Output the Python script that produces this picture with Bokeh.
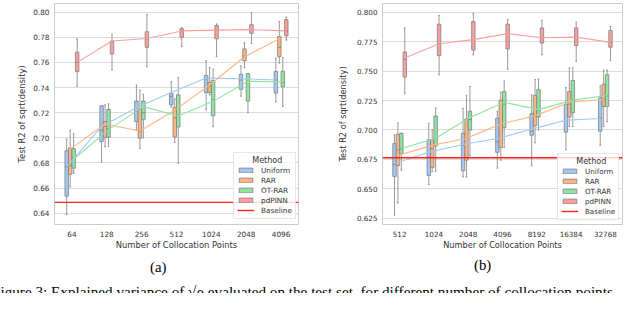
from bokeh.plotting import figure
from bokeh.models import (FactorRange, ColumnDataSource, Span, Legend, LegendItem,
                          FixedTicker, NumeralTickFormatter, Div)
from bokeh.layouts import row, column
from bokeh.transform import dodge
from bokeh.embed import file_html
from bokeh.resources import INLINE

METHODS = ["Uniform", "RAR", "OT-RAR", "pdPINN"]
COLORS = ["#a1c9f4", "#ffb482", "#8de5a1", "#ff9f9b"]
OFFSETS = [-0.15, -0.05, 0.05, 0.15]

# ---- panel (a) ----  each entry: (whisker low, q1, median, q3, whisker high, mean)
A_POINTS = ["64", "128", "256", "512", "1024", "2048", "4096"]
A_UNIFORM = [(0.639, 0.6536, 0.677, 0.6898, 0.699, 0.677),
             (0.681, 0.697, 0.706, 0.7255, 0.7255, 0.709),
             (0.706, 0.713, 0.721, 0.7292, 0.742, 0.724),
             (0.7245, 0.7262, 0.733, 0.7354, 0.7447, 0.736),
             (0.7223, 0.736, 0.747, 0.7496, 0.7613, 0.7475),
             (0.7331, 0.7386, 0.746, 0.7505, 0.7572, 0.747),
             (0.7287, 0.7356, 0.746, 0.7527, 0.7634, 0.746)]
A_RAR = [(0.661, 0.671, 0.678, 0.6918, 0.706, 0.691),
         (0.693, 0.7002, 0.709, 0.713, 0.7262, 0.711),
         (0.6915, 0.6997, 0.705, 0.7225, 0.738, 0.7055),
         (0.6963, 0.7007, 0.716, 0.7243, 0.731, 0.722),
         (0.7342, 0.736, 0.741, 0.744, 0.7558, 0.742),
         (0.7558, 0.7613, 0.765, 0.7707, 0.7757, 0.7645),
         (0.7594, 0.7645, 0.772, 0.7806, 0.7926, 0.7787)]
A_OTRAR = [(0.6718, 0.6759, 0.684, 0.6913, 0.7032, 0.683),
           (0.6933, 0.7005, 0.707, 0.7225, 0.727, 0.7065),
           (0.700, 0.7144, 0.720, 0.7292, 0.7347, 0.7248),
           (0.6797, 0.7087, 0.718, 0.7342, 0.7479, 0.7174),
           (0.7089, 0.7175, 0.730, 0.7455, 0.7547, 0.729),
           (0.720, 0.7292, 0.745, 0.751, 0.751, 0.745),
           (0.725, 0.7406, 0.744, 0.753, 0.7637, 0.7444)]
A_PDPINN = [(0.741, 0.7526, 0.760, 0.7682, 0.7787, 0.760),
            (0.754, 0.7667, 0.7764, 0.7769, 0.7824, 0.777),
            (0.7566, 0.772, 0.7787, 0.7844, 0.798, 0.779),
            (0.7725, 0.780, 0.7849, 0.7868, 0.7876, 0.785),
            (0.7645, 0.7787, 0.7856, 0.7893, 0.7906, 0.7856),
            (0.775, 0.7831, 0.786, 0.790, 0.7993, 0.786),
            (0.7777, 0.7811, 0.785, 0.794, 0.796, 0.785)]
A_BASELINE = 0.6487
A_YTICKS = [0.64, 0.66, 0.68, 0.70, 0.72, 0.74, 0.76, 0.78, 0.80]

# ---- panel (b) ----
B_POINTS = ["512", "1024", "2048", "4096", "8192", "16384", "32768"]
B_UNIFORM = [(0.6276, 0.6605, 0.671, 0.6885, 0.6958, 0.6715),
             (0.6535, 0.6613, 0.677, 0.6917, 0.7058, 0.681),
             (0.660, 0.6654, 0.687, 0.6972, 0.7185, 0.6877),
             (0.6675, 0.681, 0.690, 0.710, 0.716, 0.6928),
             (0.6697, 0.6955, 0.699, 0.7139, 0.730, 0.7006),
             (0.6832, 0.6982, 0.708, 0.7219, 0.7362, 0.7084),
             (0.6869, 0.699, 0.710, 0.7273, 0.7375, 0.7098)]
B_RAR = [(0.6379, 0.6697, 0.683, 0.6963, 0.706, 0.6783),
         (0.6645, 0.668, 0.684, 0.6917, 0.700, 0.6869),
         (0.660, 0.6743, 0.693, 0.7093, 0.7295, 0.693),
         (0.6742, 0.685, 0.705, 0.7254, 0.7322, 0.7052),
         (0.689, 0.7038, 0.712, 0.7294, 0.743, 0.712),
         (0.703, 0.7111, 0.722, 0.7327, 0.7529, 0.7236),
         (0.703, 0.720, 0.726, 0.7389, 0.751, 0.726)]
B_OTRAR = [(0.6657, 0.6796, 0.684, 0.6972, 0.6972, 0.6842),
           (0.6648, 0.6864, 0.693, 0.7119, 0.7187, 0.693),
           (0.678, 0.700, 0.709, 0.716, 0.737, 0.7106),
           (0.685, 0.702, 0.722, 0.7327, 0.7416, 0.7236),
           (0.700, 0.7111, 0.717, 0.7343, 0.7434, 0.7173),
           (0.703, 0.7147, 0.725, 0.7421, 0.7529, 0.7254),
           (0.707, 0.720, 0.729, 0.747, 0.751, 0.7294)]
B_PDPINN = [(0.7308, 0.745, 0.760, 0.7664, 0.7868, 0.7612),
            (0.747, 0.7632, 0.7733, 0.790, 0.7973, 0.7733),
            (0.764, 0.768, 0.7769, 0.7922, 0.799, 0.7769),
            (0.7515, 0.769, 0.782, 0.790, 0.7941, 0.782),
            (0.764, 0.7739, 0.7785, 0.7868, 0.7933, 0.7785),
            (0.7583, 0.7717, 0.779, 0.7868, 0.7919, 0.779),
            (0.759, 0.7704, 0.7745, 0.7846, 0.7882, 0.7745)]
B_BASELINE = 0.6764
B_YTICKS = [0.625, 0.650, 0.675, 0.700, 0.725, 0.750, 0.775, 0.800]

Y_LABEL = "Test R2 of sqrt(density)"
X_LABEL = "Number of Collocation Points"
SUBCAPTIONS = ["(a)", "(b)"]
FIG_CAPTION = ("Figure 3: Explained variance of \u221a\u03c1 evaluated on the test set, "
               "for different number of collocation points")

TEXT = "#333333"
EDGE = "#808080"
RED = "#ff2020"
FIG_H = 252


def make_panel(cats, series, baseline, ylo, yhi, yticks, fmt, width, borders,
               tick_fs, lab_fs, ylab_standoff, legend_fs, legend_loc, with_ylabel):
    bl, br, bt, bb = borders
    p = figure(x_range=FactorRange(*cats), y_range=(ylo, yhi), width=width, height=FIG_H,
               output_backend="svg", toolbar_location=None,
               min_border_left=bl, min_border_right=br, min_border_top=bt,
               min_border_bottom=bb)
    p.background_fill_color = "white"
    p.border_fill_color = "white"
    p.outline_line_color = "#cccccc"
    p.xgrid.grid_line_color = None
    p.ygrid.grid_line_color = "#dcdcdc"
    p.ygrid.ticker = FixedTicker(ticks=yticks)
    p.yaxis.ticker = FixedTicker(ticks=yticks)
    p.yaxis.formatter = NumeralTickFormatter(format=fmt)
    for ax in (p.xaxis[0], p.yaxis[0]):
        ax.axis_line_color = None
        ax.major_tick_line_color = None
        ax.minor_tick_line_color = None
        ax.major_tick_out = 0
        ax.major_tick_in = 0
        ax.major_label_text_font = "DejaVu Sans"
        ax.major_label_text_font_size = tick_fs
        ax.major_label_text_color = TEXT
        ax.axis_label_text_font = "DejaVu Sans"
        ax.axis_label_text_font_size = lab_fs
        ax.axis_label_text_font_style = "normal"
        ax.axis_label_text_color = TEXT
    p.xaxis.major_label_standoff = 6
    p.xaxis.axis_label_standoff = 0
    p.yaxis.major_label_standoff = 5
    p.yaxis.axis_label_standoff = ylab_standoff
    p.xaxis.axis_label = X_LABEL
    if with_ylabel:
        p.yaxis.axis_label = Y_LABEL

    items = []
    line_sources = []
    for name, color, off, stats in zip(METHODS, COLORS, OFFSETS, series):
        src = ColumnDataSource(dict(
            cat=cats,
            lo=[s[0] for s in stats], q1=[s[1] for s in stats], med=[s[2] for s in stats],
            q3=[s[3] for s in stats], hi=[s[4] for s in stats], mean=[s[5] for s in stats]))
        xc = dodge("cat", off, range=p.x_range)
        p.segment(x0=xc, y0="lo", x1=xc, y1="q1", source=src, line_color=EDGE, line_width=0.8)
        p.segment(x0=xc, y0="q3", x1=xc, y1="hi", source=src, line_color=EDGE, line_width=0.8)
        for yk in ("lo", "hi"):
            p.segment(x0=dodge("cat", off - 0.025, range=p.x_range), y0=yk,
                      x1=dodge("cat", off + 0.025, range=p.x_range), y1=yk,
                      source=src, line_color=EDGE, line_width=0.8)
        r = p.vbar(x=xc, width=0.1, bottom="q1", top="q3", source=src,
                   fill_color=color, line_color=EDGE, line_width=0.8)
        p.segment(x0=dodge("cat", off - 0.05, range=p.x_range), y0="med",
                  x1=dodge("cat", off + 0.05, range=p.x_range), y1="med",
                  source=src, line_color=EDGE, line_width=0.8)
        items.append(LegendItem(label=name, renderers=[r]))
        line_sources.append((src, color, off))
    for src, color, off in line_sources:
        p.line(x=dodge("cat", off, range=p.x_range), y="mean", source=src,
               line_color=color, line_width=1.1)

    p.add_layout(Span(location=baseline, dimension="width", line_color=RED,
                      line_width=1.4))
    # legend proxy for the baseline (drawn outside the visible y range)
    proxy = p.line(x=[cats[0], cats[-1]], y=[ylo - 1, ylo - 1], line_color=RED, line_width=1.4)
    items.append(LegendItem(label="Baseline", renderers=[proxy]))

    leg = Legend(items=items, location=legend_loc,
                 title="\u00a0\u00a0\u00a0\u00a0\u00a0\u00a0Method")
    leg.title_text_font = "DejaVu Sans"
    leg.title_text_font_size = "8px"
    leg.title_text_font_style = "normal"
    leg.title_text_color = TEXT
    leg.title_standoff = 0
    leg.label_text_font = "DejaVu Sans"
    leg.label_text_font_size = legend_fs
    leg.label_text_color = TEXT
    leg.label_height = 10
    leg.label_standoff = 7
    leg.glyph_height = 6
    leg.glyph_width = 17
    leg.spacing = 0
    leg.padding = 3
    leg.margin = 0
    leg.border_line_color = "#d0d0d0"
    leg.background_fill_alpha = 0.8
    p.add_layout(leg)
    return p


# panel (a): its y-axis title is set in a narrow text column on its left
YLAB_W = 28
pa = make_panel(A_POINTS, [A_UNIFORM, A_RAR, A_OTRAR, A_PDPINN], A_BASELINE,
                0.6311, 0.8068, A_YTICKS, "0.00", 320 - YLAB_W, (54 - YLAB_W, 22, 1, 26),
                "7.3px", "8.4px", 0, "7.3px", (179, 5), False)
pb = make_panel(B_POINTS, [B_UNIFORM, B_RAR, B_OTRAR, B_PDPINN], B_BASELINE,
                0.6196, 0.8076, B_YTICKS, "0.000", 304, (62, 2, 3, 28),
                "7.2px", "8.2px", 6, "7.1px", (175, 4), True)

ylab_a = Div(
    text=('<div style="position:relative; width:%dpx; height:%dpx;">'
          '<span style="position:absolute; left:22px; top:113.5px; '
          'transform: translate(-50%%, -50%%) rotate(-90deg); white-space:nowrap; '
          "font-family:'DejaVu Sans'; font-size:8.4px; line-height:1; color:%s;\">%s</span>"
          '</div>') % (YLAB_W, FIG_H, TEXT, Y_LABEL),
    width=YLAB_W, height=FIG_H, margin=0)

SERIF = ("font-family: 'Liberation Serif', serif; color:#000; line-height:1; "
         "white-space:nowrap; position:absolute;")
cap_html = (
    '<div style="position:relative; width:624px; height:41px; overflow:hidden;">'
    f'<span style="{SERIF} font-size:14.8px; left:150px; top:8px;">{SUBCAPTIONS[0]}</span>'
    f'<span style="{SERIF} font-size:14.8px; left:474px; top:6px;">{SUBCAPTIONS[1]}</span>'
    f'<span style="{SERIF} font-size:15.2px; left:-8px; top:32px;">{FIG_CAPTION}</span>'
    '</div>'
)
cap = Div(text=cap_html, width=624, height=41, margin=0, styles={"overflow": "hidden"})

layout = column(row(ylab_a, pa, pb), cap)
open("out.html", "w").write(file_html(layout, INLINE))
